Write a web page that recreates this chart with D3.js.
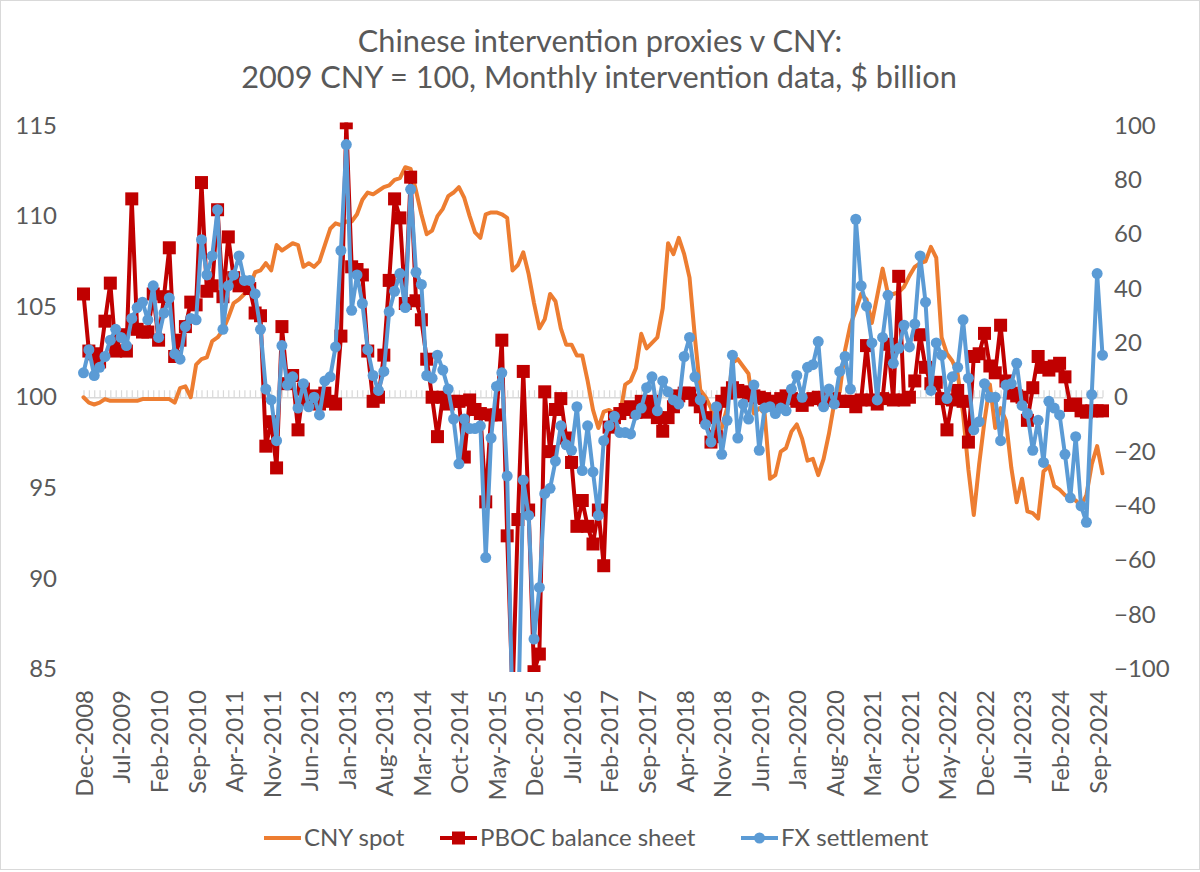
<!DOCTYPE html>
<html>
<head>
<meta charset="utf-8">
<script src="https://cdn.jsdelivr.net/npm/d3@7"></script>
<style>
  body { margin: 0; background: #fff; }
  svg { display: block; font-family: Lato, "Open Sans", sans-serif; }
</style>
</head>
<body>
<div id="chart"></div>
<script>
const WIDTH = 1200;
const HEIGHT = 872;

// monthly categories, Dec-2008 .. Oct-2024
const FIRST_MONTH = new Date(2008, 11, 1);
const LAST_MONTH = new Date(2024, 9, 1);

const TICK_LABELS = ['Dec-2008', 'Jul-2009', 'Feb-2010', 'Sep-2010', 'Apr-2011', 'Nov-2011', 'Jun-2012',
  'Jan-2013', 'Aug-2013', 'Mar-2014', 'Oct-2014', 'May-2015', 'Dec-2015', 'Jul-2016', 'Feb-2017',
  'Sep-2017', 'Apr-2018', 'Nov-2018', 'Jun-2019', 'Jan-2020', 'Aug-2020', 'Mar-2021', 'Oct-2021',
  'May-2022', 'Dec-2022', 'Jul-2023', 'Feb-2024', 'Sep-2024'];

const LEFT_TICKS = [85, 90, 95, 100, 105, 110, 115];
const RIGHT_TICKS = [-100, -80, -60, -40, -20, 0, 20, 40, 60, 80, 100];

// CNY spot, 2009 = 100 (left axis)
const cnySpot = [
  100.0,
  99.7, 99.6, 99.7, 99.9, 99.8, 99.8, 99.8, 99.8, 99.8, 99.8, 99.9, 99.9,
  99.9, 99.9, 99.9, 99.9, 99.7, 100.5, 100.6, 100.0, 101.8, 102.1, 102.2, 103.1,
  103.3, 103.7, 104.4, 105.2, 105.4, 105.7, 106.1, 106.9, 107.0, 107.4, 107.0, 108.4,
  108.1, 108.3, 108.5, 108.4, 107.2, 107.4, 107.2, 107.5, 108.4, 109.3, 109.6, 109.5,
  109.7, 109.7, 110.1, 110.9, 111.3, 111.2, 111.4, 111.6, 111.7, 112.0, 112.1, 112.7,
  112.6, 111.4, 110.1, 109.0, 109.2, 110.0, 110.4, 111.1, 111.3, 111.6, 111.0, 110.0,
  109.1, 108.8, 110.1, 110.2, 110.2, 110.1, 109.9, 107.0, 107.3, 108.0, 106.8, 105.2,
  103.8, 104.3, 105.7, 105.3, 103.8, 102.9, 102.9, 102.3, 102.3, 100.9, 99.3, 98.3,
  99.2, 99.3, 99.1, 99.0, 100.7, 100.9, 101.6, 103.5, 102.7, 103.0, 103.3, 104.9,
  108.5, 107.9, 108.8, 107.9, 106.6, 103.3, 100.4, 100.0, 99.4, 98.1, 98.3, 99.4,
  101.9, 102.1, 101.7, 101.3, 99.1, 99.4, 99.1, 95.5, 95.7, 97.0, 97.2, 98.1,
  98.5, 97.7, 96.5, 96.6, 95.7, 96.6, 98.0, 99.7, 100.3, 102.6, 104.0, 104.8,
  105.7, 105.4, 104.1, 105.6, 107.1, 105.7, 105.7, 105.8, 106.1, 106.7, 107.2, 107.4,
  107.5, 108.3, 107.7, 103.3, 102.4, 102.0, 101.3, 99.1, 96.0, 93.5, 96.3, 98.7,
  100.7, 98.3, 99.4, 98.7, 96.1, 94.2, 95.5, 93.7, 93.6, 93.3, 95.9, 96.2,
  95.1, 94.9, 94.6, 94.4, 94.3, 94.0, 94.6, 96.3, 97.3, 95.8
];

// PBOC balance sheet, $ billion (right axis)
const pbocBalance = [
  38,
  17, 16, 13, 28, 42, 17, 23, 17, 73, 25, 24, 24,
  38, 21, 37, 55, 15, 21, 26, 35, 34, 79, 39, 41,
  69, 37, 59, 44, 41, 42, 40, 31, 30, -18, -9, -26,
  26, 5, 8, -12, 3, -1, 0.5, -2.5, 1.5, -1.5, -2.5, 22.5,
  101, 48, 47, 45, 17, -1.5, 0, 15.5, 43, 73, 66, 34.5,
  81, 35.5, 28.5, 14, 0, -14.5, 0, -2.5, -1.5, -1.5, -22, -1,
  -4.5, -6, -38.5, -6.5, -6.5, 21, -51, -110, -45, 9.5, -41.5, -101,
  -94.5, 2, -20, -4.5, -0.5, -15, -24, -47.5, -38, -47.5, -54, -41.5,
  -62, -11, -7.5, -6, -4.5, -3.5, -5.5, -1.5, -5.5, -1.5, -7.5, -12.5,
  -7.5, -3.5, 0.5, 1.5, 1.5, -1, -3.5, -7.5, -16.5, -14.5, -1.5, 1.5,
  3.5, 2.5, 2, 1.5, 0.5, 0, -0.5, -1.5, -1.5, -0.5, 0.5, -0.5,
  -1.5, -3, -1, -0.5, 0, -1, -1, -0.5, -1.5, -1.5, -1.5, -3.5,
  -1, 19, -1, -2.5, -0.5, 19.5, -1, 44.5, -1, 0, 6, 23,
  11, 5, 5.5, -0.5, -12, -1, 2.5, -1.5, -16.5, 15, 16, 23.5,
  11.5, 9, 26.5, 6, 1.5, 0.5, 0, -8.5, 3.5, 15, 11, 10,
  11.5, 12.5, 7.5, -3, -2.5, -5, -5.5, -5, -5, -5
];

// FX settlement, $ billion (right axis)
const fxSettlement = [
  9,
  17.5, 8, 11, 15, 21, 25, 22, 19, 29, 33, 35, 28.5,
  41, 22, 31, 36.5, 16, 14, 26, 29, 28.5, 58, 45, 52,
  69, 25, 41, 45, 52, 43, 43, 38, 25, 3, -1, -16,
  19, 4.5, 7.5, -4, 5, -3.5, 0, -6.5, 6, 7.5, 18.5, 54,
  93, 32, 45, 34.5, 17.5, 8, 2.5, 9.5, 31.5, 39, 45.5, 33,
  76.5, 46, 41.5, 8, 7, 15.5, 10, 3, -8, -24.5, -8, -11.5,
  -11.5, -10.5, -59, -15, 4, 9, -29, -118, -125, -30.5, -43.5, -89,
  -70, -35.5, -33.5, -23.5, -10.5, -17.5, -19.5, -3.5, -27, -10.5, -27.5, -43.5,
  -16, -10.5, -7, -13, -13, -13.5, -6.5, -4, 3.5, 7.5, -5, 6,
  2, -1, -2.5, 15, 22, 7.5, -1, -10, -16.5, -3.5, -21, -8.5,
  15.5, -15, -2.5, -8, 4.5, -19.5, -4, -3.5, -6, -4, -5, 3,
  8, 0, 11, 12, 20.5, -3.5, 3, -2.5, 9.5, 15, 3, 65.5,
  41, 33.5, 20, -1, 22, 37.5, 12.5, 18, 26.5, 18.5, 27, 52,
  35, 2.5, 20, 15.5, -0.5, 7.5, 11, 28.5, 7, -12, -9, 5,
  0, 0, -16, 4.5, 5, 12.5, -3, -6, -19.5, -8.5, -24, -1.5,
  -4, -6.5, -21, -37, -14.5, -40, -46, 1, 45.5, 15.5
];

const SERIES = [
  {name: 'CNY spot', values: cnySpot, axis: 'left', color: '#ED7D31', marker: null},
  {name: 'PBOC balance sheet', values: pbocBalance, axis: 'right', color: '#C00000', marker: 'square'},
  {name: 'FX settlement', values: fxSettlement, axis: 'right', color: '#5B9BD5', marker: 'circle'}
];

const PLOT = {left: 83.5, right: 1102.5, top: 125.5, bottom: 669};
const TEXT_COLOR = '#595959';
const AXIS_COLOR = '#D9D9D9';
const LINE_W = 4;
const SQ = 13;   // square marker size
const R = 5.5;   // circle marker radius

const fmt = d3.timeFormat('%b-%Y');
const months = d3.timeMonth.range(FIRST_MONTH, d3.timeMonth.offset(LAST_MONTH, 1)).map(fmt);

const x = d3.scalePoint().domain(months).range([PLOT.left, PLOT.right]);
const yLeft = d3.scaleLinear().domain([85, 115]).range([PLOT.bottom, PLOT.top]);
const yRight = d3.scaleLinear().domain([-100, 100]).range([PLOT.bottom, PLOT.top]);

const svg = d3.select('#chart').append('svg')
  .attr('width', WIDTH)
  .attr('height', HEIGHT);

svg.append('rect')
  .attr('x', 0.5).attr('y', 0.5)
  .attr('width', WIDTH - 1).attr('height', 869)
  .attr('fill', '#fff')
  .attr('stroke', AXIS_COLOR);

// title
const title = svg.append('text')
  .attr('text-anchor', 'middle')
  .attr('fill', TEXT_COLOR)
  .style('font-size', '30.7px');
title.append('tspan').attr('x', 600).attr('y', 52).text('Chinese intervention proxies v CNY:');
title.append('tspan').attr('x', 599).attr('y', 88).text('2009 CNY = 100, Monthly intervention data, $ billion');

// left axis
const leftAxis = svg.append('g')
  .attr('transform', 'translate(57,0)')
  .call(d3.axisLeft(yLeft).tickValues(LEFT_TICKS).tickSize(0).tickPadding(0));
leftAxis.select('.domain').remove();
leftAxis.selectAll('text').attr('fill', TEXT_COLOR).style('font-size', '24px').style('font-family', 'Lato');

// right axis
const rightAxis = svg.append('g')
  .attr('transform', 'translate(1114,0)')
  .call(d3.axisRight(yRight).tickValues(RIGHT_TICKS).tickSize(0).tickPadding(0));
rightAxis.select('.domain').remove();
rightAxis.selectAll('text').attr('fill', TEXT_COLOR).style('font-size', '24px').style('font-family', 'Lato');

// category axis crossing at 0 / 100, tick every month
const y0 = yRight(0);
const catAxis = svg.append('g')
  .attr('transform', 'translate(0,' + y0 + ')')
  .call(d3.axisTop(x).tickSize(7).tickSizeOuter(0).tickFormat(''));
catAxis.select('.domain').attr('stroke', AXIS_COLOR).attr('stroke-width', 1.5);
catAxis.selectAll('.tick line').attr('stroke', AXIS_COLOR).attr('stroke-width', 1.2);

// month labels, low position, rotated
svg.append('g').selectAll('text')
  .data(TICK_LABELS)
  .join('text')
  .attr('transform', d => 'translate(' + (x(d) + 1) + ',690) rotate(-90)')
  .attr('text-anchor', 'end')
  .attr('dy', '0.35em')
  .attr('fill', TEXT_COLOR)
  .style('font-size', '24px')
  .text(d => d);

// series
svg.append('clipPath').attr('id', 'plotclip')
  .append('rect')
  .attr('x', 60).attr('y', PLOT.top - 3)
  .attr('width', 1070).attr('height', PLOT.bottom - PLOT.top + 6);

const plot = svg.append('g').attr('clip-path', 'url(#plotclip)');

SERIES.forEach(s => {
  const y = s.axis === 'left' ? yLeft : yRight;
  const pts = s.values.map((v, i) => [x(months[i]), y(v)]);
  plot.append('path')
    .attr('d', d3.line()(pts))
    .attr('fill', 'none')
    .attr('stroke', s.color)
    .attr('stroke-width', LINE_W)
    .attr('stroke-linejoin', 'round')
    .attr('stroke-linecap', 'round');
  if (s.marker === 'square') {
    plot.append('g').selectAll('rect')
      .data(pts)
      .join('rect')
      .attr('x', d => d[0] - SQ / 2).attr('y', d => d[1] - SQ / 2)
      .attr('width', SQ).attr('height', SQ)
      .attr('fill', s.color);
  } else if (s.marker === 'circle') {
    plot.append('g').selectAll('circle')
      .data(pts)
      .join('circle')
      .attr('cx', d => d[0]).attr('cy', d => d[1])
      .attr('r', R)
      .attr('fill', s.color);
  }
});

// legend
const LEGEND_POS = [264, 440, 741];
const legend = svg.append('g').attr('transform', 'translate(0,838)');
SERIES.forEach((s, i) => {
  const g = legend.append('g').attr('transform', 'translate(' + LEGEND_POS[i] + ',0)');
  g.append('line')
    .attr('x1', 0).attr('x2', 37)
    .attr('stroke', s.color).attr('stroke-width', LINE_W);
  if (s.marker === 'square') {
    g.append('rect').attr('x', 18.5 - SQ / 2).attr('y', -SQ / 2).attr('width', SQ).attr('height', SQ).attr('fill', s.color);
  } else if (s.marker === 'circle') {
    g.append('circle').attr('cx', 18.5).attr('r', R).attr('fill', s.color);
  }
  g.append('text')
    .attr('x', 40)
    .attr('dy', '0.35em')
    .attr('fill', TEXT_COLOR)
    .style('font-size', '24px')
    .text(s.name);
});
</script>
</body>
</html>
